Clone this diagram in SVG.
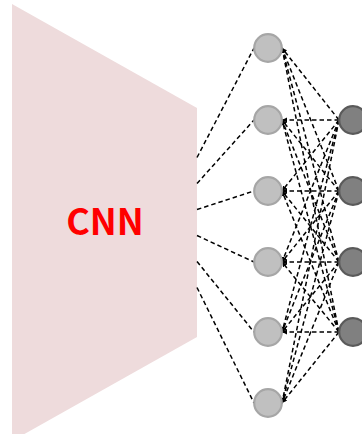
<svg xmlns="http://www.w3.org/2000/svg" width="362" height="434" viewBox="0 0 362 434">
<style>
.hid{fill:#c0c0c0;stroke:#a6a6a6;stroke-width:2.2}
.out{fill:#808080;stroke:#5a5a5a;stroke-width:2.2}
.c{fill:none;stroke:#000;stroke-width:1.5;stroke-dasharray:4.5,3}
.a{marker-end:url(#arr)}
.lbl{font-family:"Noto Sans CJK KR","Open Sans","Liberation Sans",sans-serif;font-weight:bold;font-size:36px;fill:#ff0000}
</style>
<defs>
<marker id="arr" markerUnits="userSpaceOnUse" markerWidth="6" markerHeight="6" refX="5" refY="2.5" orient="auto">
<path d="M0,0 L5,2.5 L0,5 z" fill="#000"/>
</marker>
</defs>
<rect width="362" height="434" fill="#fff"/>
<g id="cnn">
<polygon points="12,4 197,108 197,337 12,441" fill="#eedbdc"/>
<text class="lbl" x="105" y="234.5" text-anchor="middle">CNN</text>
</g>
<g id="connectors">
<line class="c" x1="197" y1="157.5" x2="254" y2="48"/>
<line class="c" x1="197" y1="183.5" x2="254" y2="120"/>
<line class="c" x1="197" y1="209.5" x2="254" y2="191"/>
<line class="c" x1="197" y1="235.5" x2="254" y2="262"/>
<line class="c" x1="197" y1="261.5" x2="254" y2="332"/>
<line class="c" x1="197" y1="287.5" x2="254" y2="403"/>
<line class="c a" x1="339" y1="120" x2="282" y2="48"/>
<line class="c a" x1="339" y1="120" x2="282" y2="120"/>
<line class="c a" x1="339" y1="120" x2="282" y2="191"/>
<line class="c a" x1="339" y1="120" x2="282" y2="262"/>
<line class="c a" x1="339" y1="120" x2="282" y2="332"/>
<line class="c a" x1="339" y1="120" x2="282" y2="403"/>
<line class="c a" x1="339" y1="191" x2="282" y2="48"/>
<line class="c a" x1="339" y1="191" x2="282" y2="120"/>
<line class="c a" x1="339" y1="191" x2="282" y2="191"/>
<line class="c a" x1="339" y1="191" x2="282" y2="262"/>
<line class="c a" x1="339" y1="191" x2="282" y2="332"/>
<line class="c a" x1="339" y1="191" x2="282" y2="403"/>
<line class="c a" x1="339" y1="262" x2="282" y2="48"/>
<line class="c a" x1="339" y1="262" x2="282" y2="120"/>
<line class="c a" x1="339" y1="262" x2="282" y2="191"/>
<line class="c a" x1="339" y1="262" x2="282" y2="262"/>
<line class="c a" x1="339" y1="262" x2="282" y2="332"/>
<line class="c a" x1="339" y1="262" x2="282" y2="403"/>
<line class="c a" x1="339" y1="332" x2="282" y2="48"/>
<line class="c a" x1="339" y1="332" x2="282" y2="120"/>
<line class="c a" x1="339" y1="332" x2="282" y2="191"/>
<line class="c a" x1="339" y1="332" x2="282" y2="262"/>
<line class="c a" x1="339" y1="332" x2="282" y2="332"/>
<line class="c a" x1="339" y1="332" x2="282" y2="403"/>
</g>
<g id="h1"><circle class="hid" cx="268" cy="48" r="13.8"/></g>
<g id="h2"><circle class="hid" cx="268" cy="120" r="13.8"/></g>
<g id="h3"><circle class="hid" cx="268" cy="191" r="13.8"/></g>
<g id="h4"><circle class="hid" cx="268" cy="262" r="13.8"/></g>
<g id="h5"><circle class="hid" cx="268" cy="332" r="13.8"/></g>
<g id="h6"><circle class="hid" cx="268" cy="403" r="13.8"/></g>
<g id="o1"><circle class="out" cx="353" cy="120" r="13.8"/></g>
<g id="o2"><circle class="out" cx="353" cy="191" r="13.8"/></g>
<g id="o3"><circle class="out" cx="353" cy="262" r="13.8"/></g>
<g id="o4"><circle class="out" cx="353" cy="332" r="13.8"/></g>
</svg>
